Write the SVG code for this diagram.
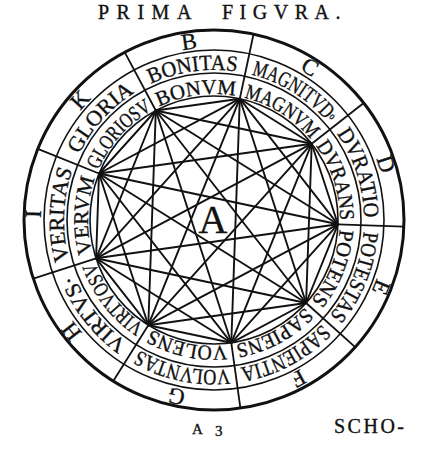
<svg xmlns="http://www.w3.org/2000/svg" width="430" height="460" viewBox="0 0 430 460">
<style>
text{font-family:"Liberation Serif","Times New Roman",serif;fill:#111;stroke:#111;stroke-width:0.35}
.lt{font-size:23px;text-anchor:middle}
.pr{font-size:22px;text-anchor:middle}
.ad{font-size:21px;text-anchor:middle}
.ring{fill:none;stroke:#111;stroke-width:1.6}
.outer{fill:none;stroke:#111;stroke-width:3}
.div{stroke:#111;stroke-width:1.8}
#connectors line{stroke:#111;stroke-width:1.9;stroke-linecap:round}
</style>
<defs>
<path id="pL" d="M133.25,68.14 A172,172 0 1 1 294.75,371.86 A172,172 0 1 1 133.25,68.14"/>
<path id="pP" d="M143.57,87.56 A150,150 0 1 1 284.43,352.44 A150,150 0 1 1 143.57,87.56"/>
<path id="pA" d="M154.84,108.75 A126,126 0 1 1 273.16,331.25 A126,126 0 1 1 154.84,108.75"/>
</defs>
<rect width="430" height="460" fill="#fff"/>
<g id="title">
<text x="98" y="19" font-size="20" letter-spacing="7.5">PRIMA</text>
<text x="222" y="19" font-size="20" letter-spacing="6.5">FIGVRA.</text>
</g>
<g id="rings">
<circle class="outer" cx="214" cy="220" r="190"/>
<circle class="ring" cx="214" cy="220" r="170"/>
<circle class="ring" cx="214" cy="220" r="147"/>
<circle class="ring" cx="214" cy="220" r="124"/>
<line class="div" x1="155.8" y1="110.5" x2="124.8" y2="52.3"/>
<line class="div" x1="239.8" y1="98.7" x2="253.5" y2="34.2"/>
<line class="div" x1="311.7" y1="143.7" x2="363.7" y2="103.0"/>
<line class="div" x1="337.9" y1="224.3" x2="403.9" y2="226.6"/>
<line class="div" x1="306.1" y1="303.0" x2="355.2" y2="347.1"/>
<line class="div" x1="231.3" y1="342.8" x2="240.4" y2="408.2"/>
<line class="div" x1="148.3" y1="325.2" x2="113.3" y2="381.1"/>
<line class="div" x1="96.1" y1="258.3" x2="33.3" y2="278.7"/>
<line class="div" x1="99.0" y1="173.5" x2="37.8" y2="148.8"/>
</g>
<g id="connectors">
<line x1="155.8" y1="110.5" x2="239.8" y2="98.7"/>
<line x1="155.8" y1="110.5" x2="311.7" y2="143.7"/>
<line x1="155.8" y1="110.5" x2="337.9" y2="224.3"/>
<line x1="155.8" y1="110.5" x2="306.1" y2="303.0"/>
<line x1="155.8" y1="110.5" x2="231.3" y2="342.8"/>
<line x1="155.8" y1="110.5" x2="148.3" y2="325.2"/>
<line x1="155.8" y1="110.5" x2="96.1" y2="258.3"/>
<line x1="155.8" y1="110.5" x2="99.0" y2="173.5"/>
<line x1="239.8" y1="98.7" x2="311.7" y2="143.7"/>
<line x1="239.8" y1="98.7" x2="337.9" y2="224.3"/>
<line x1="239.8" y1="98.7" x2="306.1" y2="303.0"/>
<line x1="239.8" y1="98.7" x2="231.3" y2="342.8"/>
<line x1="239.8" y1="98.7" x2="148.3" y2="325.2"/>
<line x1="239.8" y1="98.7" x2="96.1" y2="258.3"/>
<line x1="239.8" y1="98.7" x2="99.0" y2="173.5"/>
<line x1="311.7" y1="143.7" x2="337.9" y2="224.3"/>
<line x1="311.7" y1="143.7" x2="306.1" y2="303.0"/>
<line x1="311.7" y1="143.7" x2="231.3" y2="342.8"/>
<line x1="311.7" y1="143.7" x2="148.3" y2="325.2"/>
<line x1="311.7" y1="143.7" x2="96.1" y2="258.3"/>
<line x1="311.7" y1="143.7" x2="99.0" y2="173.5"/>
<line x1="337.9" y1="224.3" x2="306.1" y2="303.0"/>
<line x1="337.9" y1="224.3" x2="231.3" y2="342.8"/>
<line x1="337.9" y1="224.3" x2="148.3" y2="325.2"/>
<line x1="337.9" y1="224.3" x2="96.1" y2="258.3"/>
<line x1="337.9" y1="224.3" x2="99.0" y2="173.5"/>
<line x1="306.1" y1="303.0" x2="231.3" y2="342.8"/>
<line x1="306.1" y1="303.0" x2="148.3" y2="325.2"/>
<line x1="306.1" y1="303.0" x2="96.1" y2="258.3"/>
<line x1="306.1" y1="303.0" x2="99.0" y2="173.5"/>
<line x1="231.3" y1="342.8" x2="148.3" y2="325.2"/>
<line x1="231.3" y1="342.8" x2="96.1" y2="258.3"/>
<line x1="231.3" y1="342.8" x2="99.0" y2="173.5"/>
<line x1="148.3" y1="325.2" x2="96.1" y2="258.3"/>
<line x1="148.3" y1="325.2" x2="99.0" y2="173.5"/>
<line x1="96.1" y1="258.3" x2="99.0" y2="173.5"/>
</g>
<g id="seg-B">
<text class="lt"><textPath href="#pL" startOffset="5.556%">B</textPath></text>
<text class="pr"><textPath href="#pP" startOffset="5.556%" textLength="88" lengthAdjust="spacingAndGlyphs">BONITAS</textPath></text>
<text class="ad"><textPath href="#pA" startOffset="5.556%" textLength="78" lengthAdjust="spacingAndGlyphs">BONVM</textPath></text>
</g>
<g id="seg-C">
<text class="lt"><textPath href="#pL" startOffset="16.667%">C</textPath></text>
<text class="pr"><textPath href="#pP" startOffset="16.667%" textLength="92" lengthAdjust="spacingAndGlyphs">MAGNITVD<tspan font-size="11" baseline-shift="4">o</tspan></textPath></text>
<text class="ad"><textPath href="#pA" startOffset="16.667%" textLength="80" lengthAdjust="spacingAndGlyphs">MAGNVM</textPath></text>
</g>
<g id="seg-D">
<text class="lt"><textPath href="#pL" startOffset="27.778%">D</textPath></text>
<text class="pr"><textPath href="#pP" startOffset="27.778%" textLength="90" lengthAdjust="spacingAndGlyphs">DVRATIO</textPath></text>
<text class="ad"><textPath href="#pA" startOffset="27.778%" textLength="80" lengthAdjust="spacingAndGlyphs">DVRANS</textPath></text>
</g>
<g id="seg-E">
<text class="lt"><textPath href="#pL" startOffset="38.889%">E</textPath></text>
<text class="pr"><textPath href="#pP" startOffset="38.889%" textLength="92" lengthAdjust="spacingAndGlyphs">POTESTAS</textPath></text>
<text class="ad"><textPath href="#pA" startOffset="38.889%" textLength="78" lengthAdjust="spacingAndGlyphs">POTENS</textPath></text>
</g>
<g id="seg-F">
<text class="lt"><textPath href="#pL" startOffset="50%">F</textPath></text>
<text class="pr"><textPath href="#pP" startOffset="50%" textLength="94" lengthAdjust="spacingAndGlyphs">SAPIENTIA</textPath></text>
<text class="ad"><textPath href="#pA" startOffset="50%" textLength="80" lengthAdjust="spacingAndGlyphs">SAPIENS</textPath></text>
</g>
<g id="seg-G">
<text class="lt"><textPath href="#pL" startOffset="61.111%">G</textPath></text>
<text class="pr"><textPath href="#pP" startOffset="61.111%" textLength="94" lengthAdjust="spacingAndGlyphs">VOLVNTAS</textPath></text>
<text class="ad"><textPath href="#pA" startOffset="61.111%" textLength="78" lengthAdjust="spacingAndGlyphs">VOLENS</textPath></text>
</g>
<g id="seg-H">
<text class="lt"><textPath href="#pL" startOffset="72.222%">H</textPath></text>
<text class="pr"><textPath href="#pP" startOffset="72.222%" textLength="88" lengthAdjust="spacingAndGlyphs">VIRTVS·</textPath></text>
<text class="ad"><textPath href="#pA" startOffset="72.222%" textLength="82" lengthAdjust="spacingAndGlyphs">VIRTVOSV</textPath></text>
</g>
<g id="seg-I">
<text class="lt"><textPath href="#pL" startOffset="83.333%">I</textPath></text>
<text class="pr"><textPath href="#pP" startOffset="83.333%" textLength="92" lengthAdjust="spacingAndGlyphs">VERITAS</textPath></text>
<text class="ad"><textPath href="#pA" startOffset="83.333%" textLength="76" lengthAdjust="spacingAndGlyphs">VERVM</textPath></text>
</g>
<g id="seg-K">
<text class="lt"><textPath href="#pL" startOffset="94.444%">K</textPath></text>
<text class="pr"><textPath href="#pP" startOffset="94.444%" textLength="84" lengthAdjust="spacingAndGlyphs">GLORIA</textPath></text>
<text class="ad"><textPath href="#pA" startOffset="94.444%" textLength="82" lengthAdjust="spacingAndGlyphs">GLORIOSV</textPath></text>
</g>
<g id="center-A">
<text x="213" y="233" font-size="40" text-anchor="middle">A</text>
</g>
<g id="footer">
<text y="434" font-size="15"><tspan x="192">A</tspan><tspan x="215" y="436">3</tspan></text>
<text x="334" y="433" font-size="20" letter-spacing="2.5">SCHO-</text>
</g>
</svg>
